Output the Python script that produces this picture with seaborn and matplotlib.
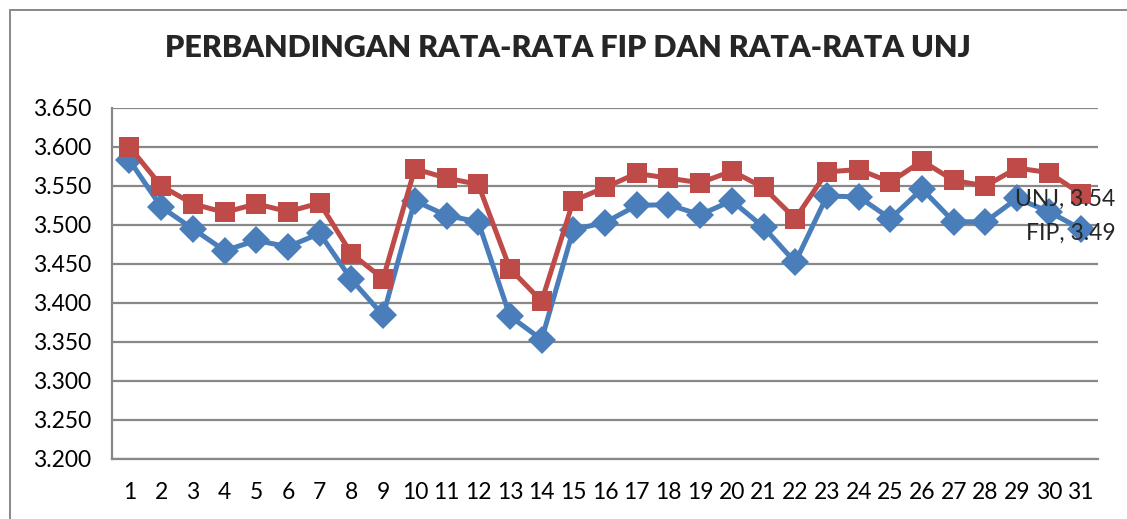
import pandas as pd
import seaborn as sns
import matplotlib.pyplot as plt
from matplotlib.patches import Rectangle
from matplotlib.ticker import FormatStrFormatter

# Average scores per point, FIP vs UNJ
points = list(range(1, 32))
fip = [3.583, 3.523, 3.495, 3.467, 3.480, 3.472, 3.489, 3.430, 3.384, 3.531,
       3.512, 3.504, 3.383, 3.353, 3.494, 3.503, 3.525, 3.526, 3.513, 3.531,
       3.497, 3.452, 3.537, 3.536, 3.508, 3.546, 3.504, 3.504, 3.534, 3.517,
       3.495]
unj = [3.600, 3.550, 3.527, 3.516, 3.527, 3.517, 3.528, 3.463, 3.431, 3.572,
       3.560, 3.552, 3.444, 3.402, 3.531, 3.548, 3.566, 3.560, 3.554, 3.569,
       3.548, 3.508, 3.568, 3.571, 3.555, 3.582, 3.557, 3.550, 3.573, 3.567,
       3.540]
series_names = ["FIP", "UNJ"]
end_labels = ["FIP, 3.49", "UNJ, 3.54"]

df = pd.DataFrame({
    "Point": points * 2,
    "Rata-rata": fip + unj,
    "Series": ["FIP"] * len(fip) + ["UNJ"] * len(unj),
})

sns.set_style("white")
plt.rcParams["font.family"] = ["Lato", "DejaVu Sans"]

fig = plt.figure(figsize=(11.27, 5.19), dpi=100)
ax = fig.add_axes([0.0994, 0.116, 0.8749, 0.676])

colors = {"FIP": "#4A7EBB", "UNJ": "#BE4B48"}
markers = {"FIP": "D", "UNJ": "s"}

sns.lineplot(
    data=df, x="Point", y="Rata-rata", hue="Series", style="Series",
    markers=markers, dashes=False, palette=colors, ax=ax,
    linewidth=3.6, markeredgewidth=0, legend=False,
)
for line, name in zip(ax.get_lines(), series_names):
    line.set_markersize(15 if name == "UNJ" else 14)

ax.set_xlim(0.45, 31.55)
ax.set_ylim(3.2, 3.65)
ax.set_yticks([3.2 + 0.05 * i for i in range(10)])
ax.yaxis.set_major_formatter(FormatStrFormatter("%.3f"))
ax.set_xticks(points)
ax.set_xlabel("")
ax.set_ylabel("")
ax.tick_params(axis="both", length=0, labelsize=16.5, colors="black")
ax.tick_params(axis="x", pad=17)
ax.tick_params(axis="y", pad=15)
ax.grid(axis="y", color="#888888", linewidth=1.6)
ax.set_axisbelow(True)
for side in ["top", "right"]:
    ax.spines[side].set_visible(False)
for side in ["left", "bottom"]:
    ax.spines[side].set_color("#888888")
    ax.spines[side].set_linewidth(1.6)

# end-of-line labels
ax.annotate(end_labels[1], xy=(31, unj[-1]), xytext=(25, -4),
            textcoords="offset points", ha="right", va="center", fontsize=16.5)
ax.annotate(end_labels[0], xy=(31, fip[-1]), xytext=(25, -3),
            textcoords="offset points", ha="right", va="center", fontsize=16.5)

fig.suptitle("PERBANDINGAN RATA-RATA FIP DAN RATA-RATA UNJ",
             x=0.504, y=0.935, fontsize=22, fontweight="heavy")

# chart frame
fig.patches.append(Rectangle((10 / 1127, -0.1), 1.2, (519 - 10) / 519 + 0.1,
                             transform=fig.transFigure, fill=False,
                             edgecolor="#888888", linewidth=1.4))

fig.savefig("out.png", dpi=100)
